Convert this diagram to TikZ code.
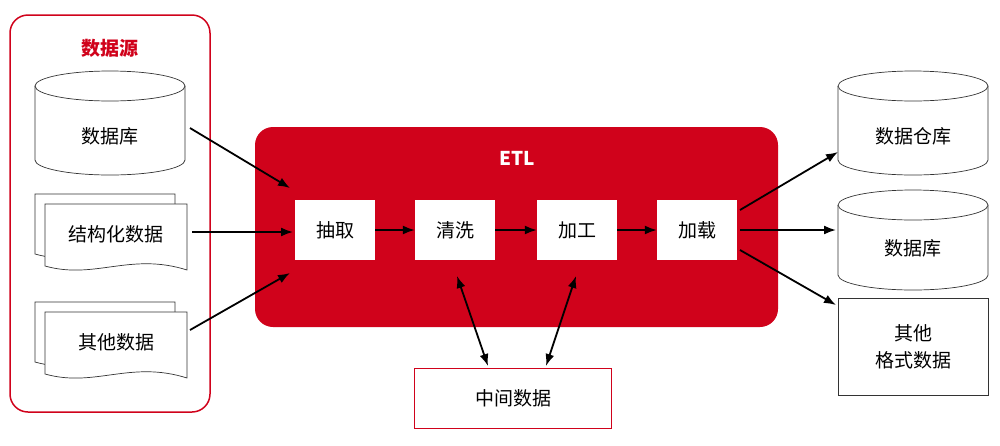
\documentclass[tikz,border=0pt]{standalone}
\usepackage{fontspec}
\setmainfont{Noto Sans CJK SC}
\usetikzlibrary{arrows.meta}
\definecolor{etlred}{HTML}{D0021B}
\begin{document}
\begin{tikzpicture}[x=1pt,y=-1pt,
  lbl/.style={font=\fontsize{19}{23}\selectfont},
  wbox/.style={fill=white,minimum width=80pt,minimum height=60pt,inner sep=0pt,font=\fontsize{19}{23}\selectfont},
  conn/.style={line width=1.8pt,-{Latex[length=12pt,width=9pt]}},
  dconn/.style={line width=1.8pt,{Latex[length=12pt,width=9pt]}-{Latex[length=12pt,width=9pt]}},
  shp/.style={draw=black!80,fill=white,line width=0.7pt}]
\useasboundingbox (0,0) rectangle (1000,445);
% left source group
\draw[etlred,line width=1.5pt,rounded corners=18pt] (10,15) rectangle (210,412);
\node[font=\fontsize{19}{23}\selectfont\bfseries,text=etlred] (srct) at (110,48) {数据源};
% cylinder db
\newcommand{\cyl}[4]{% x1 x2 ytop ybot
  \pgfmathsetmacro{\rx}{(#2-#1)/2}
  \draw[shp] (#1,#3) -- (#1,#4) arc (180:360:\rx pt and 15pt) -- (#2,#3);
  \draw[shp] ({(#1+#2)/2},#3) ellipse (\rx pt and 15pt);}
\cyl{35}{185}{86}{160}
\node[lbl] (db1) at (110,136) {数据库};
% documents
\newcommand{\doc}[4]{% x1 x2 ytop ybot
  \draw[shp] (#1,#3) -- (#2,#3) -- (#2,#4) .. controls ({#1+(#2-#1)*0.6},{#4-18}) and ({#1+(#2-#1)*0.35},{#4+10}) .. (#1,{#4-4}) -- cycle;}
\doc{35}{175}{194}{258}
\doc{45}{187}{204}{270}
\node[lbl] (sd) at (116,234) {结构化数据};
\doc{35}{175}{302}{366}
\doc{45}{187}{312}{378}
\node[lbl] (od) at (116,342) {其他数据};
% ETL
\fill[etlred,rounded corners=18pt] (255,127) rectangle (778,327);
\node[font=\fontsize{19}{23}\selectfont\bfseries,text=white] (etl) at (517,158) {ETL};
\node[wbox] (a) at (335,230) {抽取};
\node[wbox] (b) at (455,230) {清洗};
\node[wbox] (c) at (577,230) {加工};
\node[wbox] (d) at (697,230) {加载};
\draw[conn] (a) -- (b);
\draw[conn] (b) -- (c);
\draw[conn] (c) -- (d);
% intermediate
\node[draw=etlred,line width=0.8pt,fill=white,minimum width=197pt,minimum height=60pt,inner sep=0pt,font=\fontsize{19}{23}\selectfont] (m) at (513,398) {中间数据};
% right
\cyl{838}{988}{86}{160}
\node[lbl] (dw) at (913,136) {数据仓库};
\cyl{838}{988}{205}{275}
\node[lbl] (db2) at (913,248) {数据库};
\node[shp,draw,minimum width=150pt,minimum height=97pt,inner sep=0pt,align=center,font=\fontsize{19}{27}\selectfont] (of) at (913,347) {其他\\格式数据};
% connectors
\coordinate (s1) at (190,128); \coordinate (t1) at (290,188);
\coordinate (s2) at (192,232); \coordinate (t2) at (293,232);
\coordinate (s3) at (190,330); \coordinate (t3) at (290,273);
\draw[conn] (s1) -- (t1);
\draw[conn] (s2) -- (t2);
\draw[conn] (s3) -- (t3);
\coordinate (u1) at (740,210); \coordinate (v1) at (838,152);
\coordinate (u2) at (740,230); \coordinate (v2) at (836,230);
\coordinate (u3) at (740,250); \coordinate (v3) at (836,305);
\draw[conn] (u1) -- (v1);
\draw[conn] (u2) -- (v2);
\draw[conn] (u3) -- (v3);
\coordinate (p1) at (457,276); \coordinate (q1) at (488,366);
\coordinate (p2) at (576,276); \coordinate (q2) at (546,366);
\draw[dconn] (p1) -- (q1);
\draw[dconn] (p2) -- (q2);
\end{tikzpicture}
\end{document}
